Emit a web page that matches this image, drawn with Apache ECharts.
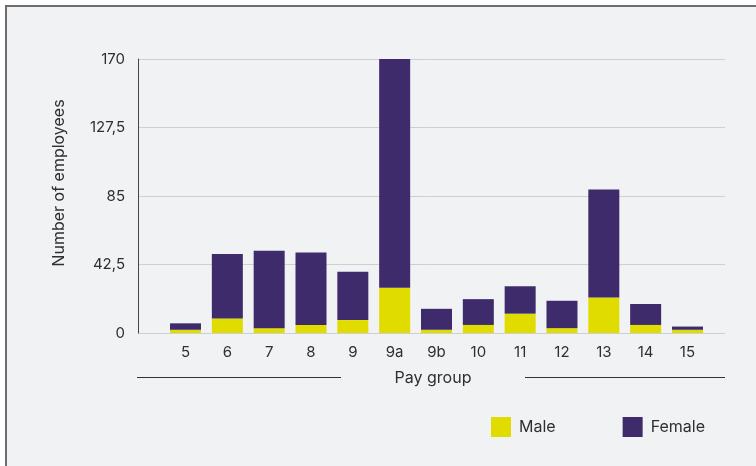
<!DOCTYPE html>
<html>
<head>
<meta charset="utf-8">
<script src="https://cdn.jsdelivr.net/npm/echarts@6/dist/echarts.min.js"></script>
<style>
  html, body { margin: 0; padding: 0; background: #ffffff; }
  #chart { width: 756px; height: 466px; }
</style>
</head>
<body>
<div id="chart"></div>
<script>
// Headcount by pay group, split by gender
const payGroups = ['5', '6', '7', '8', '9', '9a', '9b', '10', '11', '12', '13', '14', '15'];
const male   = [2, 9, 3, 5, 8, 28, 2, 5, 12, 3, 22, 5, 2];
const female = [4, 40, 48, 45, 30, 142, 13, 16, 17, 17, 67, 13, 2];
const yTicks = [0, 42.5, 85, 127.5, 170];

const MALE_COLOR = '#e0dc00';
const FEMALE_COLOR = '#3e2b6b';
const TEXT = '#2f2f2f';
const FONT = 'Inter';
const FS_TICK = 15;
const FS_NAME = 16;

const chart = echarts.init(document.getElementById('chart'), null, { renderer: 'canvas' });

const plotTop = 59, plotBottom = 466 - 333;
const yMax = yTicks[yTicks.length - 1];
const yStep = yTicks[1] - yTicks[0];

chart.setOption({
  backgroundColor: '#ffffff',
  animation: false,
  textStyle: { fontFamily: FONT },
  graphic: [
    {
      type: 'rect', z: -10, silent: true,
      shape: { x: 6, y: 6, width: 760, height: 470 },
      style: { fill: '#f1f2f4', stroke: '#6e6e70', lineWidth: 2 }
    },
    {
      type: 'line', silent: true,
      shape: { x1: 137, y1: 377.5, x2: 341, y2: 377.5 },
      style: { stroke: '#333333', lineWidth: 1 }
    },
    {
      type: 'line', silent: true,
      shape: { x1: 525, y1: 377.5, x2: 725, y2: 377.5 },
      style: { stroke: '#333333', lineWidth: 1 }
    },
    {
      type: 'text', silent: true,
      x: 433, y: 378,
      style: {
        text: 'Pay group', fill: TEXT, font: FS_NAME + 'px "' + FONT + '"',
        align: 'center', verticalAlign: 'middle'
      }
    },
    {
      type: 'text', silent: true,
      x: 59, y: 183, rotation: Math.PI / 2,
      style: {
        text: 'Number of employees', fill: TEXT, font: FS_NAME + 'px "' + FONT + '"',
        align: 'center', verticalAlign: 'middle'
      }
    }
  ],
  legend: {
    left: 491, top: 417, padding: 0,
    itemWidth: 20, itemHeight: 20, itemGap: 67,
    icon: 'rect',
    textStyle: { color: TEXT, fontSize: FS_NAME, fontFamily: FONT, padding: [0, 0, 0, 3] },
    data: ['Male', 'Female']
  },
  grid: [
    { left: 138, right: 31, top: plotTop, bottom: plotBottom },
    { left: 164.6, width: 41.83 * payGroups.length, top: plotTop, bottom: plotBottom }
  ],
  xAxis: [
    { type: 'category', gridIndex: 0, data: payGroups, show: false },
    {
      type: 'category', gridIndex: 1, data: payGroups,
      axisLine: { show: false }, axisTick: { show: false },
      axisLabel: { color: TEXT, fontSize: FS_TICK, fontFamily: FONT, margin: 12 }
    }
  ],
  yAxis: [
    {
      type: 'value', gridIndex: 0, min: 0, max: yMax, interval: yStep,
      axisLine: { show: true, lineStyle: { color: '#444444', width: 1 } },
      axisTick: { show: false },
      axisLabel: {
        color: TEXT, fontSize: FS_TICK, fontFamily: FONT, margin: 13,
        formatter: v => String(v).replace('.', ',')
      },
      splitLine: { lineStyle: { color: '#cfcfcf', width: 1 } }
    },
    {
      type: 'value', gridIndex: 1, min: 0, max: yMax, interval: yStep,
      show: false, splitLine: { show: false }
    }
  ],
  series: [
    {
      name: 'Male', type: 'bar', stack: 'total', data: male,
      xAxisIndex: 1, yAxisIndex: 1, barWidth: 31,
      itemStyle: { color: MALE_COLOR }
    },
    {
      name: 'Female', type: 'bar', stack: 'total', data: female,
      xAxisIndex: 1, yAxisIndex: 1, barWidth: 31,
      itemStyle: { color: FEMALE_COLOR }
    }
  ]
});
</script>
</body>
</html>
